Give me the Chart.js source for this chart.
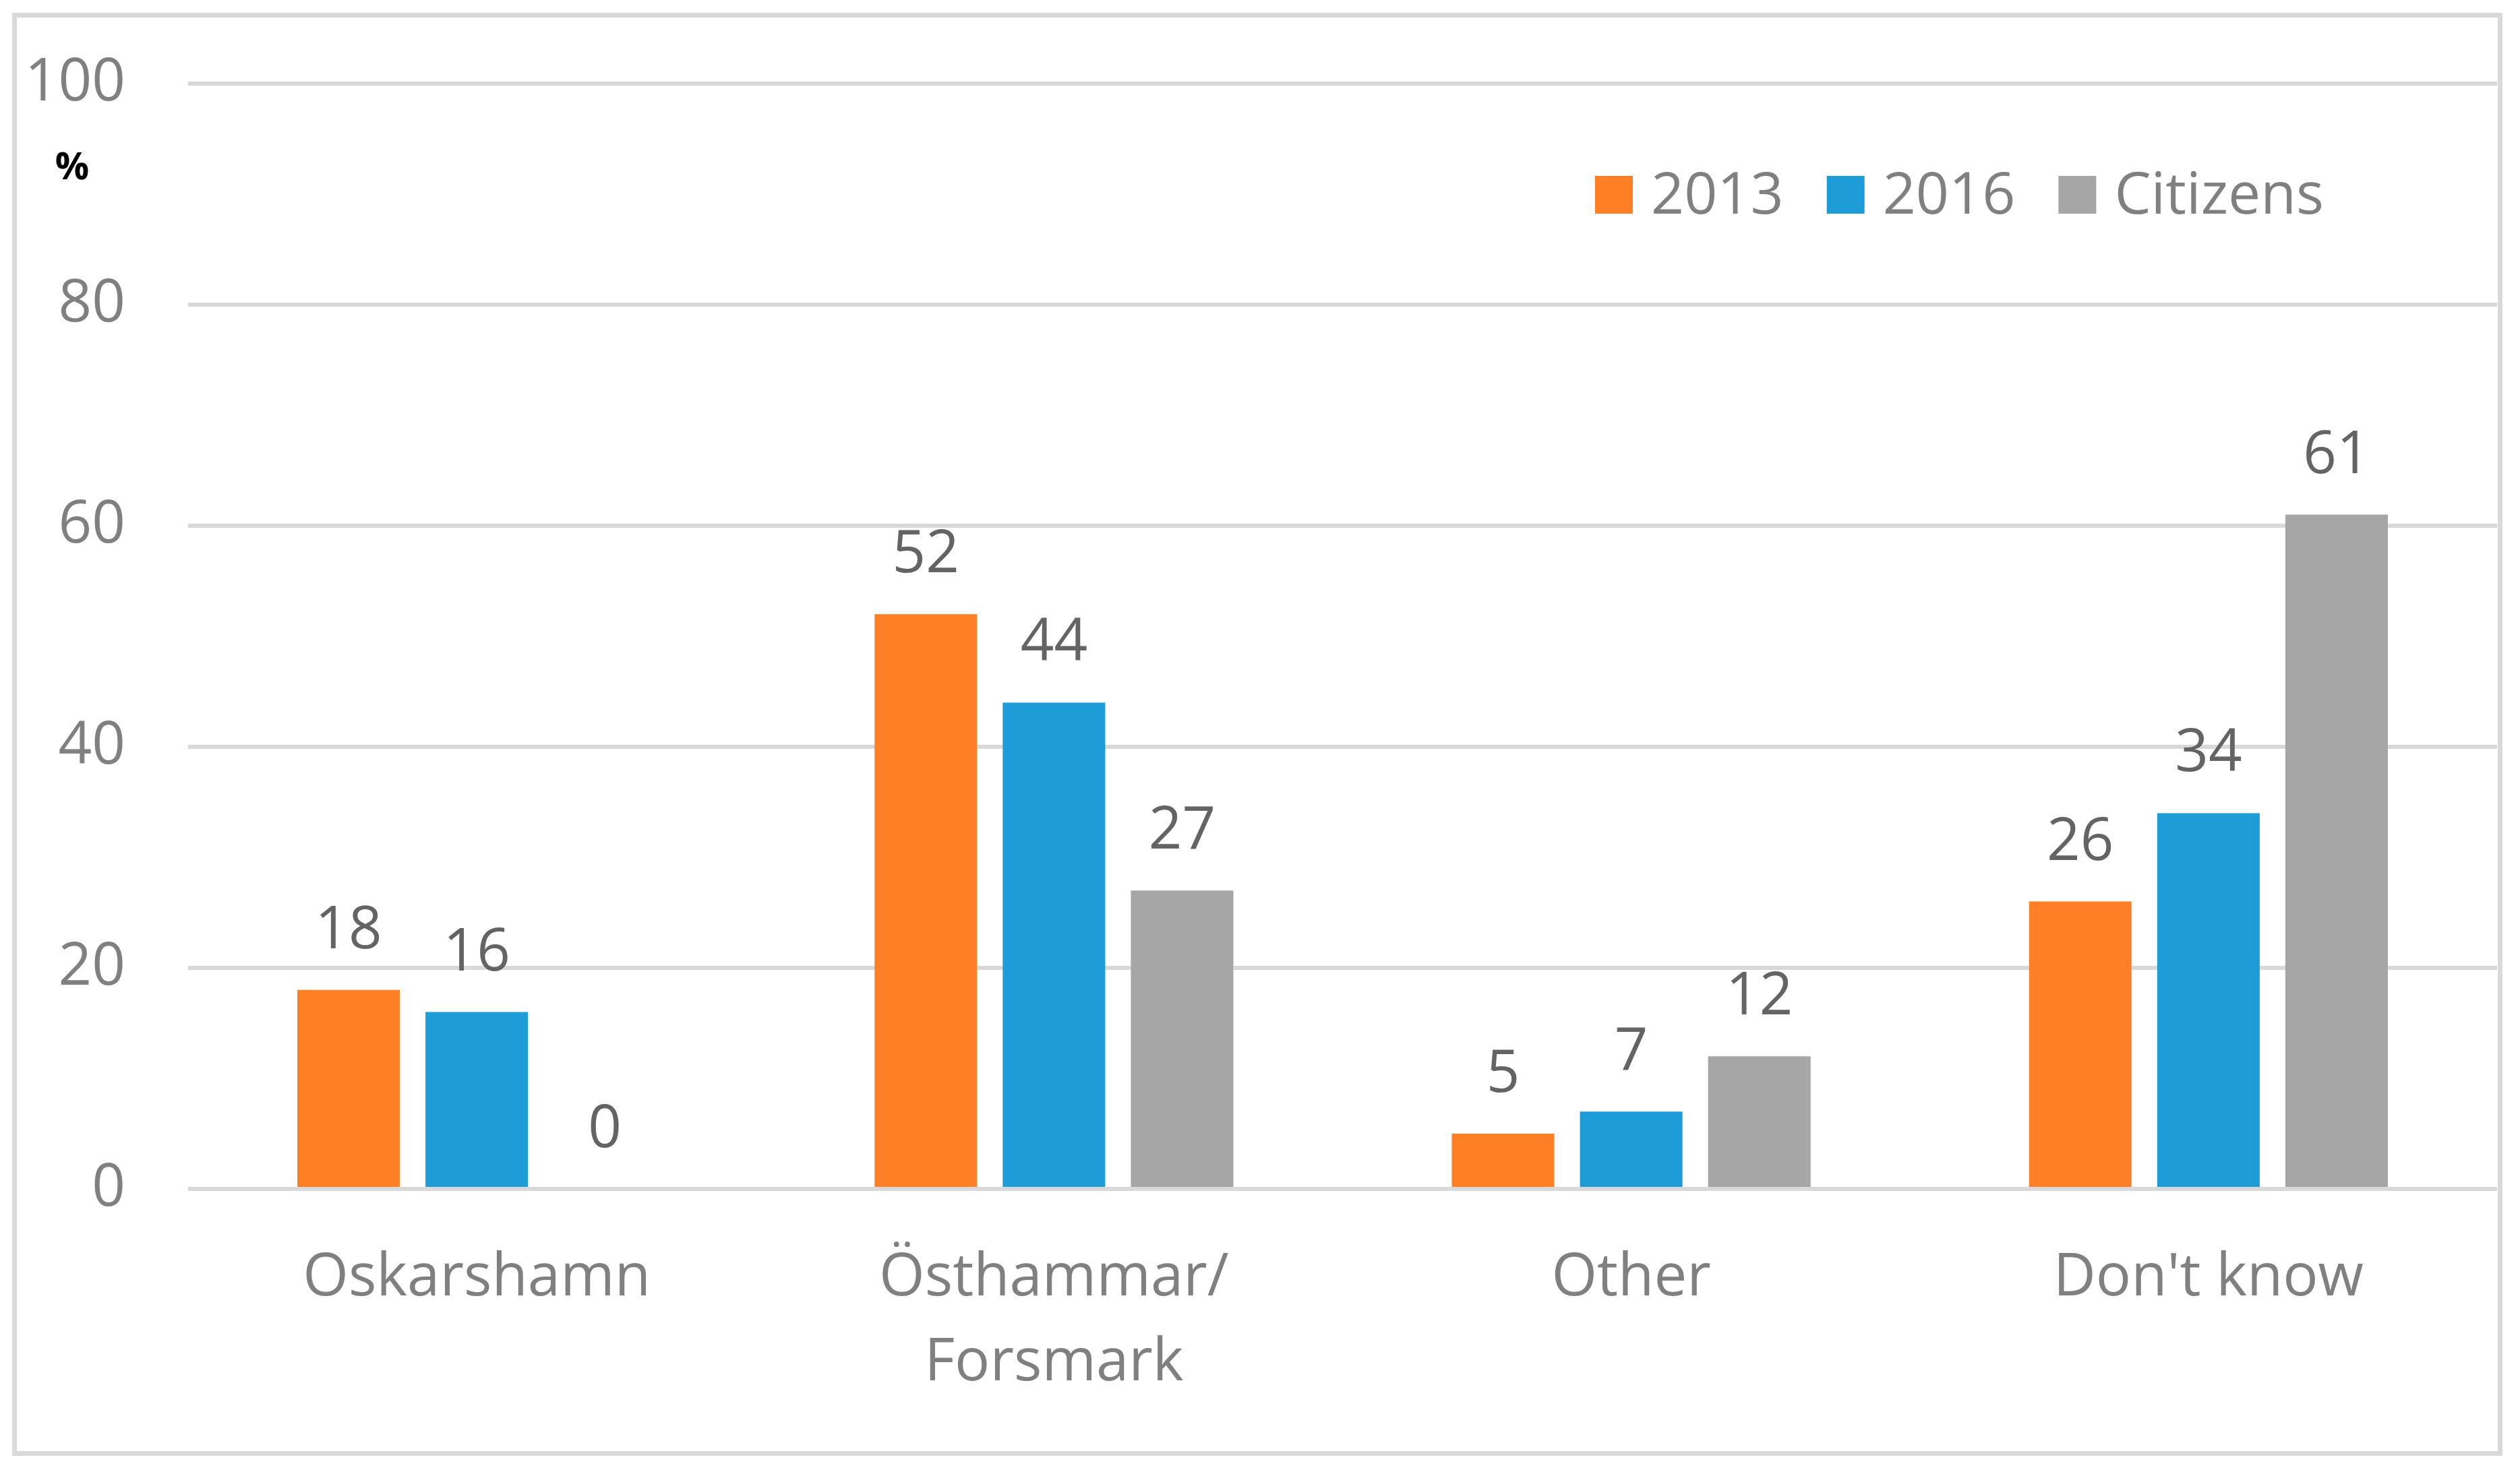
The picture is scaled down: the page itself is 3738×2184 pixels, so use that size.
<!DOCTYPE html>
<html>
<head>
<meta charset="utf-8">
<title>Location</title>
<script src="https://cdn.jsdelivr.net/npm/chart.js@4.4.1/dist/chart.umd.min.js"></script>
<style>
    html, body { margin: 0; padding: 0; background: #fff; }
    #wrap { position: relative; width: 3738px; height: 2184px; }
    #frame {
        position: absolute; left: 18px; top: 19px; width: 3694px; height: 2141px;
        border: 7px solid #d9d9d9; box-sizing: border-box; pointer-events: none;
    }
    canvas { position: absolute; left: 0; top: 0; }
</style>
</head>
<body>
<div id="wrap">
    <canvas id="chart" width="3738" height="2184"></canvas>
    <div id="frame"></div>
</div>
<script>
const categories = ['Oskarshamn', ['Östhammar/', 'Forsmark'], 'Other', "Don't know"];
const seriesNames = ['2013', '2016', 'Citizens'];
const values2013 = [18, 52, 5, 26];
const values2016 = [16, 44, 7, 34];
const valuesCitizens = [0, 27, 12, 61];
const yTicks = [0, 20, 40, 60, 80, 100];
const colors = ['#ff7f27', '#1e9cd7', '#a6a6a6'];

const FONT = "'Open Sans', 'Noto Sans', sans-serif";

// value labels above each bar
const valueLabels = {
    id: 'valueLabels',
    afterDatasetsDraw(chart) {
        const ctx = chart.ctx;
        ctx.save();
        ctx.font = '87px ' + FONT;
        ctx.fillStyle = '#646464';
        ctx.textAlign = 'center';
        ctx.textBaseline = 'alphabetic';
        chart.data.datasets.forEach((ds, i) => {
            const meta = chart.getDatasetMeta(i);
            meta.data.forEach((bar, j) => {
                ctx.fillText(String(ds.data[j]), bar.x, bar.y - 62);
            });
        });
        ctx.restore();
    }
};

// legend sits inside the plot, top right
const insideLegend = {
    id: 'insideLegend',
    afterDraw(chart) {
        const ctx = chart.ctx;
        ctx.save();
        ctx.font = '86px ' + FONT;
        ctx.textBaseline = 'alphabetic';
        ctx.textAlign = 'left';
        let x = 2366;
        const top = 261, box = 56;
        chart.data.datasets.forEach(ds => {
            ctx.fillStyle = ds.backgroundColor;
            ctx.fillRect(x, top, box, box);
            ctx.fillStyle = '#808080';
            ctx.fillText(ds.label, x + box + 27, top + box);
            x += box + 27 + ctx.measureText(ds.label).width + 64;
        });
        // unit label under the top tick
        ctx.font = 'bold 56px ' + FONT;
        ctx.fillStyle = '#000';
        ctx.textAlign = 'center';
        ctx.textBaseline = 'middle';
        ctx.fillText('%', 107, 250);
        ctx.restore();
    }
};

new Chart(document.getElementById('chart').getContext('2d'), {
    type: 'bar',
    data: {
        labels: categories,
        datasets: [
            { label: seriesNames[0], data: values2013, backgroundColor: colors[0] },
            { label: seriesNames[1], data: values2016, backgroundColor: colors[1] },
            { label: seriesNames[2], data: valuesCitizens, backgroundColor: colors[2] }
        ].map(d => Object.assign(d, { barPercentage: 0.8, categoryPercentage: 0.666, borderWidth: 0 }))
    },
    options: {
        responsive: false,
        animation: false,
        devicePixelRatio: 1,
        layout: { padding: { top: 124, right: 34, left: 0, bottom: 0 } },
        plugins: {
            legend: { display: false },
            tooltip: { enabled: false }
        },
        scales: {
            x: {
                grid: { display: false },
                border: { display: false },
                ticks: {
                    font: { family: FONT, size: 87, lineHeight: 1.45 },
                    color: '#808080',
                    padding: 62,
                    maxRotation: 0
                },
                afterFit(scale) { scale.height = 420; }
            },
            y: {
                min: 0,
                max: 100,
                afterBuildTicks(scale) { scale.ticks = yTicks.map(v => ({ value: v })); },
                grid: { color: '#d9d9d9', lineWidth: 6, drawTicks: false },
                border: { display: false },
                ticks: {
                    font: { family: FONT, size: 87 },
                    color: '#808080',
                    padding: 93
                },
                afterFit(scale) {
                    scale.width = 279;
                    scale.paddingTop = 0;
                    scale.paddingBottom = 0;
                }
            }
        }
    },
    plugins: [valueLabels, insideLegend]
});
</script>
</body>
</html>
